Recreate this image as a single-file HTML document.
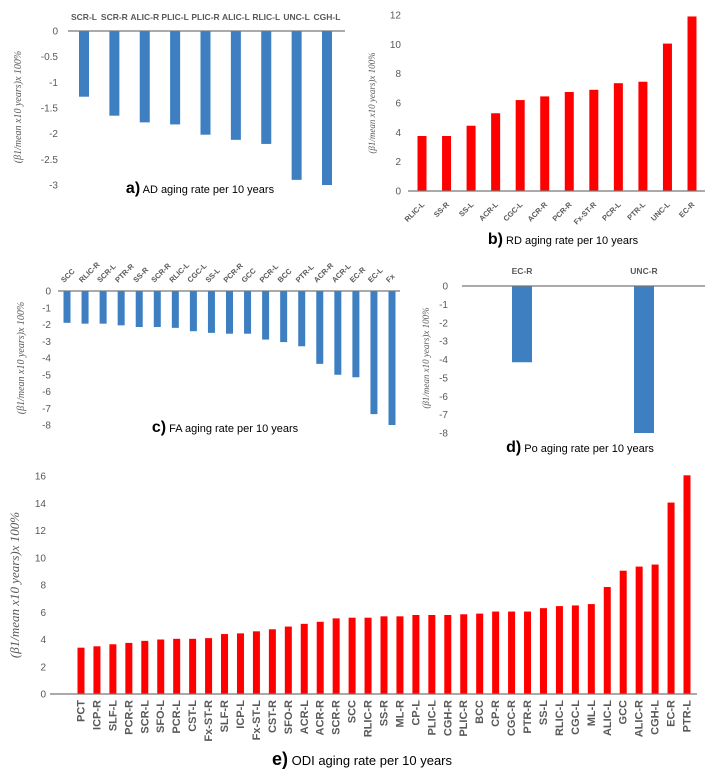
<!DOCTYPE html>
<html><head><meta charset="utf-8"><style>
html,body{margin:0;padding:0;background:#fff;}
svg{display:block;font-family:"Liberation Sans",sans-serif;}
.tk{font-size:10px;fill:#595959;}
.cat{font-size:8.5px;fill:#595959;font-weight:bold;}
.yt{font-size:10px;fill:#595959;font-family:"Liberation Serif",serif;font-style:italic;}
.ttl{font-size:11px;fill:#000;}
</style></head><body>
<svg id="fig" width="720" height="773" viewBox="0 0 720 773"></svg>
<script>
const aCats=["SCR-L","SCR-R","ALIC-R","PLIC-L","PLIC-R","ALIC-L","RLIC-L","UNC-L","CGH-L"];
const aVals=[-1.28,-1.65,-1.78,-1.82,-2.02,-2.12,-2.2,-2.9,-3.0];
const aTicks=[0,-0.5,-1,-1.5,-2,-2.5,-3];
const bCats=["RLIC-L","SS-R","SS-L","ACR-L","CGC-L","ACR-R","PCR-R","Fx-ST-R","PCR-L","PTR-L","UNC-L","EC-R"];
const bVals=[3.75,3.75,4.45,5.3,6.2,6.45,6.75,6.9,7.35,7.45,10.05,11.9];
const bTicks=[0,2,4,6,8,10,12];
const cCats=["SCC","RLIC-R","SCR-L","PTR-R","SS-R","SCR-R","RLIC-L","CGC-L","SS-L","PCR-R","GCC","PCR-L","BCC","PTR-L","ACR-R","ACR-L","EC-R","EC-L","Fx"];
const cVals=[-1.9,-1.95,-1.95,-2.05,-2.15,-2.15,-2.2,-2.4,-2.5,-2.55,-2.55,-2.9,-3.05,-3.3,-4.35,-5.0,-5.15,-7.35,-8.0];
const cTicks=[0,-1,-2,-3,-4,-5,-6,-7,-8];
const dCats=["EC-R","UNC-R"];
const dVals=[-4.15,-8.0];
const dTicks=[0,-1,-2,-3,-4,-5,-6,-7,-8];
const eCats=["PCT","ICP-R","SLF-L","PCR-R","SCR-L","SFO-L","PCR-L","CST-L","Fx-ST-R","SLF-R","ICP-L","Fx-ST-L","CST-R","SFO-R","ACR-L","ACR-R","SCR-R","SCC","RLIC-R","SS-R","ML-R","CP-L","PLIC-L","CGH-R","PLIC-R","BCC","CP-R","CGC-R","PTR-R","SS-L","RLIC-L","CGC-L","ML-L","ALIC-L","GCC","ALIC-R","CGH-L","EC-R","PTR-L"];
const eVals=[3.4,3.5,3.65,3.75,3.9,4.0,4.05,4.05,4.1,4.4,4.45,4.6,4.75,4.95,5.15,5.3,5.55,5.6,5.6,5.7,5.7,5.8,5.8,5.8,5.85,5.9,6.05,6.05,6.05,6.3,6.45,6.5,6.6,7.85,9.05,9.35,9.5,14.05,16.05];
const eTicks=[0,2,4,6,8,10,12,14,16];

const NS="http://www.w3.org/2000/svg";
const svg=document.getElementById('fig');
function mk(tag,attrs,parent,text){const e=document.createElementNS(NS,tag);for(const k in attrs)e.setAttribute(k,attrs[k]);if(text!==undefined)e.textContent=text;(parent||svg).appendChild(e);return e;}

function panel(o){
  const g=mk('g',{});
  
  
  const y=v=>o.y0+(v-o.v0)*(o.y1-o.y0)/(o.v1-o.v0);
  const x=i=>o.xf+i*(o.xl-o.xf)/(o.cats.length-1);
  o.ticks.forEach(t=>{
    const tx=mk('text',{x:o.tickX,y:y(t)+3.5,'text-anchor':'end',class:'tk'},g,String(t));
    
    
  });
  o.vals.forEach((v,i)=>{
    const ya=y(0),yb=y(v);
    const r=mk('rect',{x:x(i)-o.bw/2,y:Math.min(ya,yb),width:o.bw,height:Math.abs(yb-ya),fill:o.color},g);
    
    
  });
  const ax=mk('line',{x1:o.ax0,x2:o.ax1,y1:y(0),y2:y(0),stroke:'#777','stroke-width':1.2},g);
  
  
  o.cats.forEach((c,i)=>{
    let t;
    if(o.labelMode==='top') t=mk('text',{x:x(i),y:o.labY,'text-anchor':'middle',class:'cat'},g,c);
    else if(o.labelMode==='top45') t=mk('text',{x:x(i)-3,y:o.labY,'text-anchor':'start',class:'cat',transform:`rotate(-45 ${x(i)-3} ${o.labY})`,style:'font-size:7.5px'},g,c);
    else if(o.labelMode==='bot45') t=mk('text',{x:x(i)+3,y:o.labY,'text-anchor':'end',class:'cat',transform:`rotate(-45 ${x(i)+3} ${o.labY})`,style:'font-size:7.5px'},g,c);
    else t=mk('text',{x:x(i)+3.5,y:o.labY,'text-anchor':'end',class:'cat',transform:`rotate(-90 ${x(i)+3.5} ${o.labY})`,style:'font-size:11px'},g,c);
    
    
  });
  const yt=mk('text',{x:o.ytX,y:o.ytY,'text-anchor':'middle',class:'yt',transform:`rotate(-90 ${o.ytX} ${o.ytY})`,style:'font-size:'+(o.ytSize||10)+'px'},g,'(β1/mean x10 years)x 100%');
  
  
  const tt=mk('text',{x:o.tX,y:o.tY,'text-anchor':'middle',class:'ttl',style:'font-size:'+(o.tSize||11)+'px'},g);
  
  
  mk('tspan',{'font-weight':'bold',style:'font-size:'+((o.tSize||11)+5)+'px'},tt,o.letter+')');
  mk('tspan',{},tt,' '+o.title);
}

panel({name:'panel-a-ad',cats:aCats,vals:aVals,ticks:aTicks,v0:0,v1:-3,y0:31,y1:185,xf:84,xl:327,bw:10,ax0:68,ax1:345,tickX:58,color:'#3d7fc1',labelMode:'top',labY:20,ytX:21,ytY:107,tX:200,tY:193,letter:'a',title:'AD aging rate per 10 years'});
panel({name:'panel-b-rd',cats:bCats,vals:bVals,ticks:bTicks,v0:0,v1:12,y0:191,y1:15,xf:422,xl:692,bw:9,ax0:408,ax1:705,tickX:401,color:'#ff0000',labelMode:'bot45',labY:205,ytX:375,ytY:103,ytSize:9,tX:563,tY:244,letter:'b',title:'RD aging rate per 10 years'});
panel({name:'panel-c-fa',cats:cCats,vals:cVals,ticks:cTicks,v0:0,v1:-8,y0:291,y1:425,xf:67,xl:392,bw:7,ax0:58,ax1:400,tickX:51,color:'#3d7fc1',labelMode:'top45',labY:283,ytX:24,ytY:358,tX:225,tY:432,letter:'c',title:'FA aging rate per 10 years'});
panel({name:'panel-d-po',cats:dCats,vals:dVals,ticks:dTicks,v0:0,v1:-8,y0:286,y1:433,xf:522,xl:644,bw:20,ax0:462,ax1:705,tickX:448,color:'#3d7fc1',labelMode:'top',labY:274,ytX:429,ytY:358,ytSize:9,tX:580,tY:452,letter:'d',title:'Po aging rate per 10 years'});
panel({name:'panel-e-odi',cats:eCats,vals:eVals,ticks:eTicks,v0:0,v1:16,y0:694,y1:476,xf:81,xl:687,bw:7,ax0:50,ax1:697,tickX:46,color:'#ff0000',labelMode:'bot90',labY:700,ytX:19,ytY:585,ytSize:13,tX:362,tY:765,tSize:13,letter:'e',title:'ODI aging rate per 10 years'});
</script>
</body></html>
